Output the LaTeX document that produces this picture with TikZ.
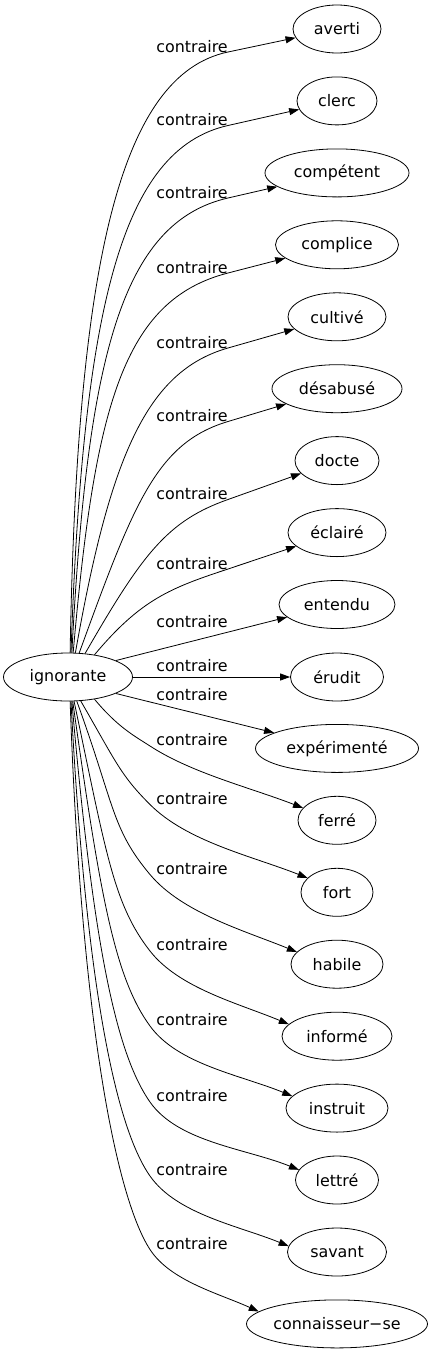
\documentclass[tikz,border=0pt]{standalone}
\usepackage{fontspec}
\setmainfont{DejaVu Sans}
\usetikzlibrary{arrows.meta,shapes.geometric}
\begin{document}
\begin{tikzpicture}[x=1pt,y=-1pt]
\tikzset{
  word/.style={draw, ellipse, minimum height=48pt, inner sep=0pt, line width=0.8pt,
    font=\fontsize{15.9}{19}\selectfont},
  lab/.style={inner sep=0pt, font=\fontsize{15.9}{19}\selectfont},
  link/.style={line width=0.8pt, -{Triangle[length=10pt,width=7pt]}}
}
\useasboundingbox (0,0) rectangle (433,1355);
\fill[white] (0,0) rectangle (433,1355);
% nodes
\node[word, minimum width=129pt] (ig) at (68,677) {ignorante};
\node[word, minimum width=88pt]  (n0) at (337,29) {averti};
\node[word, minimum width=80pt]  (n1) at (337,100.9) {clerc};
\node[word, minimum width=144pt] (n2) at (337,172.9) {compétent};
\node[word, minimum width=123pt] (n3) at (337,244.8) {complice};
\node[word, minimum width=98pt]  (n4) at (337,316.8) {cultivé};
\node[word, minimum width=130pt] (n5) at (337,388.7) {désabusé};
\node[word, minimum width=84pt]  (n6) at (337,460.6) {docte};
\node[word, minimum width=98pt]  (n7) at (337,532.6) {éclairé};
\node[word, minimum width=116pt] (n8) at (337,604.5) {entendu};
\node[word, minimum width=93pt]  (n9) at (337,677) {érudit};
\node[word, minimum width=163pt] (n10) at (337,748.4) {expérimenté};
\node[word, minimum width=78pt]  (n11) at (337,820.3) {ferré};
\node[word, minimum width=72pt]  (n12) at (337,892.3) {fort};
\node[word, minimum width=92pt]  (n13) at (337,964.2) {habile};
\node[word, minimum width=110pt] (n14) at (337,1036.2) {informé};
\node[word, minimum width=102pt] (n15) at (337,1108.1) {instruit};
\node[word, minimum width=83pt]  (n16) at (337,1180) {lettré};
\node[word, minimum width=99pt]  (n17) at (337,1252) {savant};
\node[word, minimum width=181pt] (n18) at (337,1323.9) {connaisseur−se};
% labels
\node[lab] (l0) at (192,46.5) {contraire};
\node[lab] (l1) at (192,120) {contraire};
\node[lab] (l2) at (192,192.5) {contraire};
\node[lab] (l3) at (192,267.5) {contraire};
\node[lab] (l4) at (192,342.5) {contraire};
\node[lab] (l5) at (192,416) {contraire};
\node[lab] (l6) at (192,494) {contraire};
\node[lab] (l7) at (192,563.5) {contraire};
\node[lab] (l8) at (192,621.5) {contraire};
\node[lab] (l9) at (192,665.5) {contraire};
\node[lab] (l10) at (192,694.5) {contraire};
\node[lab] (l11) at (192,740) {contraire};
\node[lab] (l12) at (192,798.5) {contraire};
\node[lab] (l13) at (192,868.5) {contraire};
\node[lab] (l14) at (192,945) {contraire};
\node[lab] (l15) at (192,1020) {contraire};
\node[lab] (l16) at (192,1096) {contraire};
\node[lab] (l17) at (192,1170) {contraire};
\node[lab] (l18) at (192,1243.5) {contraire};
% waypoints
\coordinate (w0) at (228,52);
\coordinate (w1) at (228,125.5);
\coordinate (w2) at (228,198);
\coordinate (w3) at (228,273);
\coordinate (w4) at (228,348);
\coordinate (w5) at (228,421.5);
\coordinate (w6) at (228,499.5);
\coordinate (w7) at (228,569);
\coordinate (w11) at (150,746);
\coordinate (w12) at (150,804.5);
\coordinate (w13) at (150,874.5);
\coordinate (w14) at (150,951);
\coordinate (w15) at (150,1026);
\coordinate (w16) at (150,1102);
\coordinate (w17) at (150,1176);
\coordinate (w18) at (150,1249.5);
% upper edges
\draw[link] (ig.85) .. controls (76.9,262.3) and (119.9,74.8) .. (w0) -- (n0);
\draw[link] (ig.83) .. controls (82.9,310.1) and (120.6,149.6) .. (w1) -- (n1);
\draw[link] (ig.81) .. controls (87.3,357.2) and (121.4,222.4) .. (w2) -- (n2);
\draw[link] (ig.78) .. controls (94.7,406) and (123,300) .. (w3) -- (n3);
\draw[link] (ig.73) .. controls (110.3,454.8) and (147.2,371) .. (w4) -- (n4);
\draw[link] (ig.65) .. controls (133.9,502.7) and (156.6,442.8) .. (w5) -- (n5);
\draw[link] (ig.54) .. controls (142.7,553.5) and (167.3,520.9) .. (w6) -- (n6);
\draw[link] (ig.40) .. controls (141.1,599.1) and (170.8,587.9) .. (w7) -- (n7);
% middle edges
\draw[link] (ig.19) -- (n8);
\draw[link] (ig.east) -- (n9.west);
\draw[link] (ig.-19) -- (n10);
% lower edges
\draw[link] (ig.-40) .. controls (117.8,727.2) and (134.2,735.8) .. (w11)
  .. controls (191.7,773.1) and (249.4,787.3) .. (n11.160);
\draw[link] (ig.-62) .. controls (116.5,762.9) and (120.6,775.1) .. (w12)
  .. controls (187.2,841.7) and (251.8,856) .. (n12.154);
\draw[link] (ig.-70) .. controls (114.6,805) and (111.4,828.5) .. (w13)
  .. controls (182.1,912.7) and (243.2,930.2) .. (n13.163);
\draw[link] (ig.-76) .. controls (105.9,851) and (113,903.7) .. (w14)
  .. controls (179.1,988.2) and (238.3,1003.3) .. (n14.166);
\draw[link] (ig.-79) .. controls (100.1,896) and (114.7,977.5) .. (w15)
  .. controls (178,1064.6) and (241.2,1075.1) .. (n15.165);
\draw[link] (ig.-81) .. controls (92.8,941.6) and (115.6,1052.9) .. (w16)
  .. controls (178.2,1142.3) and (246.1,1148.5) .. (n16.165);
\draw[link] (ig.-83) .. controls (85.8,986) and (115.6,1126.9) .. (w17)
  .. controls (176.7,1214.2) and (238.2,1225.6) .. (n17.173);
\draw[link] (ig.-85) .. controls (81.6,1030.1) and (117.3,1199.2) .. (w18)
  .. controls (170.5,1281) and (218.8,1293.4) .. (n18.171);
\end{tikzpicture}
\end{document}
